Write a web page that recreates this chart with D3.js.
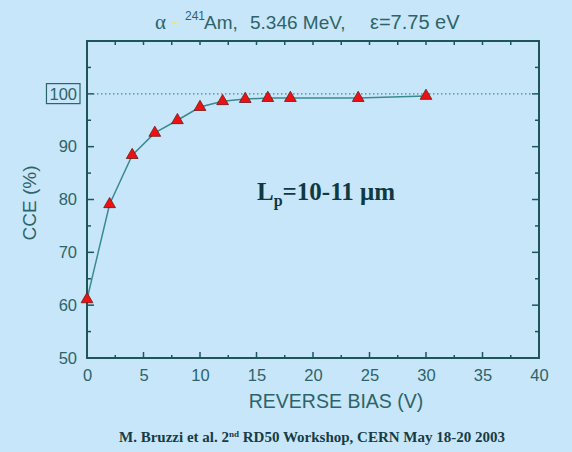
<!DOCTYPE html>
<html lang="en">
<head>
<meta charset="UTF-8">
<title>CCE vs reverse bias</title>
<script src="https://d3js.org/d3.v7.min.js"></script>
<style>
  body { margin: 0; background: #c8e6fa; }
  .axis path { display: none; }
  .axis line { stroke: #1d5559; stroke-width: 1.5px; }
  .axis text { font-family: "Liberation Sans", Arial, sans-serif; font-size: 16.5px; fill: #2c6468; }
</style>
</head>
<body>
<svg></svg>
<script>
// data
var bias = [0, 2, 4, 6, 8, 10, 12, 14, 16, 18, 24, 30];
var cce = [61.1, 79.1, 88.4, 92.6, 95.0, 97.5, 98.6, 99.0, 99.2, 99.2, 99.2, 99.6];
var xTicks = [0, 5, 10, 15, 20, 25, 30, 35, 40];
var yTicks = [50, 60, 70, 80, 90, 100];

var width = 572, height = 452;
// plot box (note: "top" is taken by window.top, so use p* names)
var pLeft = 87, pRight = 539, pTop = 41, pBottom = 358;

var svg = d3.select("svg").attr("width", width).attr("height", height);

svg.append("rect").attr("width", width).attr("height", height).style("fill", "#c8e6fa");

var x = d3.scaleLinear().domain([0, 40]).range([pLeft, pRight]);
var y = d3.scaleLinear().domain([50, 110]).range([pBottom, pTop]);

var axisColor = "#1d5559";
var textColor = "#2c6468";

// minor/major ticks, all pointing inward
var g = svg.append("g");
var xMinor = d3.range(0, 40.1, 2.5);
var yMinor = d3.range(50, 110.1, 5);

g.selectAll(".bt").data(xMinor).enter().append("line")
    .attr("x1", d => x(d)).attr("x2", d => x(d))
    .attr("y1", pBottom).attr("y2", d => pBottom - (d % 5 === 0 ? 6 : 3))
    .style("stroke", axisColor).style("stroke-width", 1.5);
g.selectAll(".tt").data(xMinor).enter().append("line")
    .attr("x1", d => x(d)).attr("x2", d => x(d))
    .attr("y1", pTop).attr("y2", pTop + 4)
    .style("stroke", axisColor).style("stroke-width", 1.5);
g.selectAll(".lt").data(yMinor).enter().append("line")
    .attr("x1", pLeft).attr("x2", d => pLeft + (d % 10 === 0 ? 7 : 4))
    .attr("y1", d => y(d)).attr("y2", d => y(d))
    .style("stroke", axisColor).style("stroke-width", 1.5);
g.selectAll(".rt").data(yMinor).enter().append("line")
    .attr("x1", pRight).attr("x2", d => pRight - (d % 10 === 0 ? 7 : 4))
    .attr("y1", d => y(d)).attr("y2", d => y(d))
    .style("stroke", axisColor).style("stroke-width", 1.5);

// frame
svg.append("rect")
    .attr("x", pLeft).attr("y", pTop)
    .attr("width", pRight - pLeft).attr("height", pBottom - pTop)
    .style("fill", "none").style("stroke", axisColor).style("stroke-width", 2);

// tick labels
svg.append("g").classed("axis", true)
    .attr("transform", "translate(0," + pBottom + ")")
    .call(d3.axisBottom(x).tickValues(xTicks).tickSize(0).tickPadding(11));
var yAxis = svg.append("g").classed("axis", true)
    .attr("transform", "translate(" + pLeft + ",0)")
    .call(d3.axisLeft(y).tickValues(yTicks).tickSize(0).tickPadding(10));

// box round the 100 label
yAxis.selectAll(".tick").filter(d => d === 100).each(function () {
    var t = d3.select(this).select("text").node().getBBox();
    d3.select(this).insert("rect", "text")
        .attr("x", t.x - 3).attr("y", t.y - 1)
        .attr("width", t.width + 6).attr("height", t.height + 2)
        .style("fill", "none").style("stroke", textColor).style("stroke-width", 1.2);
});

// dotted reference line at 100
svg.append("line")
    .attr("x1", pLeft + 2).attr("x2", pRight - 2)
    .attr("y1", y(100)).attr("y2", y(100))
    .style("stroke", "#3d8a90").style("stroke-width", 1.2)
    .style("stroke-dasharray", "1.5,2.5");

// data line
var line = d3.line().x((d, i) => x(bias[i])).y(d => y(d));
svg.append("path").datum(cce)
    .attr("d", line)
    .style("fill", "none").style("stroke", "#3a8a8f").style("stroke-width", 1.5);

// triangles
svg.selectAll(".pt").data(cce).enter().append("path")
    .attr("transform", (d, i) => "translate(" + x(bias[i]) + "," + y(d) + ")")
    .attr("d", d3.symbol().type(d3.symbolTriangle).size(60))
    .style("fill", "#ee1111").style("stroke", "#6a1a1a").style("stroke-width", 0.8);

// axis titles
svg.append("text")
    .attr("x", 336).attr("y", 408)
    .attr("text-anchor", "middle")
    .style("font-family", "Liberation Sans, Arial, sans-serif").style("font-size", "19.5px")
    .style("fill", textColor)
    .text("REVERSE BIAS (V)");
svg.append("text")
    .attr("transform", "translate(36,203) rotate(-90)")
    .attr("text-anchor", "middle")
    .style("font-family", "Liberation Sans, Arial, sans-serif").style("font-size", "19px")
    .style("fill", textColor)
    .text("CCE (%)");

// title, pieces placed one by one to keep the wide spacing
var title = svg.append("g")
    .style("font-family", "Liberation Sans, Arial, sans-serif").style("font-size", "19px")
    .style("fill", textColor);
title.append("text").attr("x", 155).attr("y", 29)
    .style("font-family", "Liberation Serif, serif").style("font-size", "21px").text("α");
title.append("text").attr("x", 172).attr("y", 28).style("fill", "#f0e27a").text("-");
title.append("text").attr("x", 185).attr("y", 20).style("font-size", "12px").text("241");
title.append("text").attr("x", 204).attr("y", 29).text("Am,");
title.append("text").attr("x", 250).attr("y", 29).text("5.346 MeV,");
title.append("text").attr("x", 370).attr("y", 29).style("font-size", "20px").text("ε=7.75 eV");

// annotation
var ann = svg.append("text")
    .attr("x", 257).attr("y", 200)
    .style("font-family", "Liberation Serif, Times New Roman, serif").style("font-size", "25px")
    .style("font-weight", "bold").style("fill", "#0f3a40");
ann.append("tspan").text("L");
ann.append("tspan").attr("dy", 6).style("font-size", "16px").text("p");
ann.append("tspan").attr("dy", -6).text("=10-11 μm");

// footer
var foot = svg.append("text")
    .attr("x", 312).attr("y", 442)
    .attr("text-anchor", "middle")
    .style("font-family", "Liberation Serif, Times New Roman, serif").style("font-size", "15px")
    .style("font-weight", "bold").style("fill", "#163c44");
foot.append("tspan").text("M. Bruzzi et al. 2");
foot.append("tspan").attr("dy", -5).style("font-size", "9px").text("nd");
foot.append("tspan").attr("dy", 5).text(" RD50 Workshop, CERN May 18-20 2003");
</script>
</body>
</html>
